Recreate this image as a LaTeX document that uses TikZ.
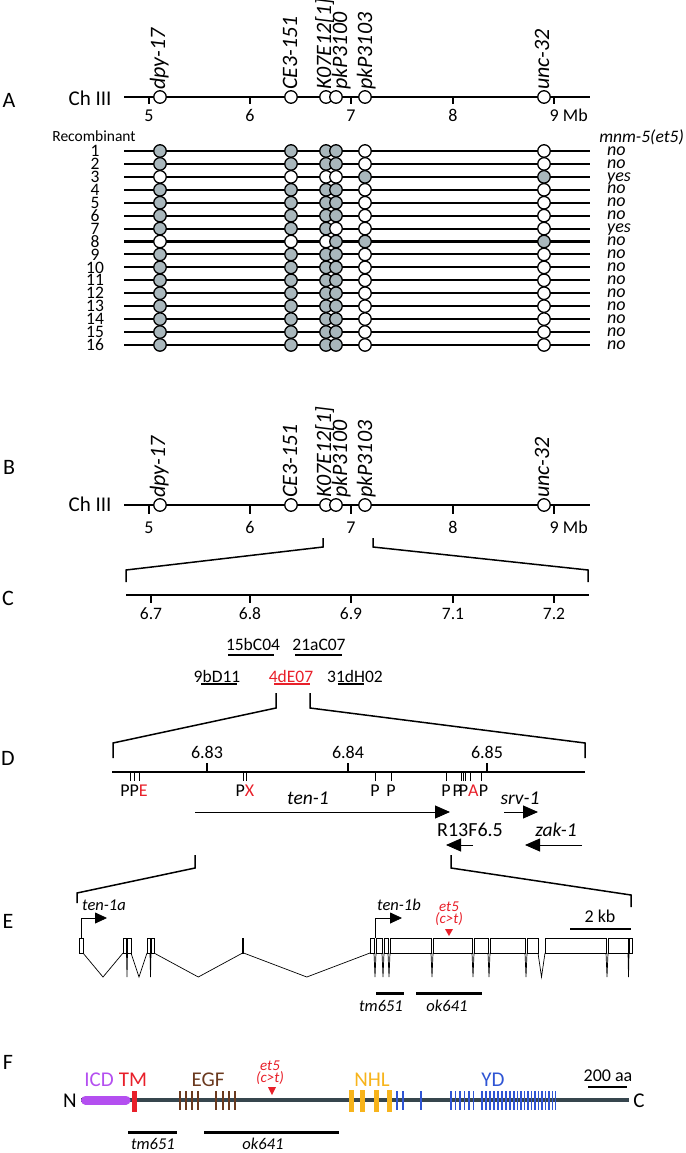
\documentclass[tikz,border=0pt]{standalone}
\usepackage{fontspec}
\setmainfont{Carlito}
\usetikzlibrary{arrows.meta}
\definecolor{mgray}{HTML}{A9B7BC}
\definecolor{mred}{HTML}{E8202A}
\definecolor{mpurple}{HTML}{B44FF0}
\definecolor{mbrown}{HTML}{6B3A1F}
\definecolor{morange}{HTML}{F7B41C}
\definecolor{mblue}{HTML}{2F55D4}
\definecolor{mslate}{HTML}{36464E}
\newcommand{\fsz}[1]{\fontsize{#1}{#1}\selectfont}
\begin{document}
\begin{tikzpicture}[x=1pt,y=-1pt,
  panel/.style={inner sep=0pt, font=\fsz{22}, text height=14.2pt, text depth=0pt},
  tA/.style={inner sep=0pt, font=\fsz{15.5}, text height=10pt, text depth=0pt},
  tB/.style={inner sep=0pt, font=\fsz{17.5}, text height=11.3pt, text depth=0pt},
  tC/.style={inner sep=0pt, font=\fsz{18}, text height=11.6pt, text depth=0pt},
  tD/.style={inner sep=0pt, font=\fsz{20}, text height=12.9pt, text depth=0pt},
  tE/.style={inner sep=0pt, font=\fsz{21}, text height=13.5pt, text depth=0pt},
  iA/.style={inner sep=0pt, font=\fsz{15}\itshape, text height=9.7pt, text depth=0pt},
  iB/.style={inner sep=0pt, font=\fsz{16.5}\itshape, text height=10.6pt, text depth=0pt},
  iC/.style={inner sep=0pt, font=\fsz{17.5}\itshape, text height=11.3pt, text depth=0pt},
  iD/.style={inner sep=0pt, font=\fsz{19.5}\itshape, text height=12.6pt, text depth=0pt},
  xh/.style={inner sep=0pt, font=\fsz{18}\itshape, text height=8.4pt, text depth=0pt},
  rl/.style={rotate=90, anchor=west, inner sep=0pt, font=\fsz{22}\itshape, text height=15pt, text depth=5pt},
  mk/.style={circle, draw, line width=1.3pt, fill=white, minimum size=12.5pt, inner sep=0pt},
  chrom/.style={line width=2.1pt},
  tick/.style={line width=1.3pt},
  brk/.style={line width=1.5pt},
  bar/.style={line width=2.2pt},
  thin/.style={line width=0.7pt},
  garrow/.style={line width=0.9pt, -{Triangle[length=15pt,width=13pt]}},
  parrow/.style={line width=0.8pt, -{Triangle[length=12pt,width=11pt]}}
]
\useasboundingbox (0,0) rectangle (685,1153);

%%%%%%%%%%%%%%%% Panel A
\node[panel] (pA) at (9,100) {A};
\node[tE] (chA) at (90,99) {Ch III};
\coordinate (aL) at (124,97); \coordinate (aR) at (590,97);
\draw[chrom] (aL) -- (aR);
\foreach \x/\l [count=\k] in {149/5,250/6,351/7,453/8}{
  \coordinate (at\k) at (\x,97); \coordinate (ab\k) at (\x,104);
  \draw[tick] (at\k) -- (ab\k);
  \node[tC] (al\k) at (\x,116) {\l};
}
\coordinate (at5) at (554,97); \coordinate (ab5) at (554,104);
\draw[tick] (at5) -- (ab5);
\node[tC, anchor=west] (al5) at (549.5,116) {9 Mb};
\foreach \x/\n/\t/\o in {160/d/dpy-17/0,291/c/CE3-151/1,326/k/K07E12[1]/0,336/p/pkP3100/6,365/q/pkP3103/2,544/u/unc-32/0}{
  \node[mk] (mA\n) at (\x,97) {};
  \node[rl] (lA\n) at ([xshift=\o pt]mA\n.north) {\t};
}

\node[tA] (recomb) at (94,137) {Recombinant};
\node[iC, anchor=east] (mnm) at (684,137) {mnm-5(et5)};

\foreach \i/\a/\b/\c/\d/\e/\f/\r in {
 1/mgray/mgray/mgray/mgray/white/white/no,
 2/mgray/mgray/mgray/mgray/white/white/no,
 3/white/white/white/white/mgray/mgray/yes,
 4/mgray/mgray/mgray/mgray/white/white/no,
 5/mgray/mgray/mgray/mgray/white/white/no,
 6/mgray/mgray/mgray/mgray/white/white/no,
 7/mgray/mgray/mgray/white/white/white/yes,
 8/white/white/white/mgray/mgray/mgray/no,
 9/mgray/mgray/mgray/mgray/white/white/no,
 10/mgray/mgray/mgray/mgray/white/white/no,
 11/mgray/mgray/mgray/mgray/white/white/no,
 12/mgray/mgray/mgray/mgray/white/white/no,
 13/mgray/mgray/mgray/mgray/white/white/no,
 14/mgray/mgray/mgray/mgray/white/white/no,
 15/mgray/mgray/mgray/mgray/white/white/no,
 16/mgray/mgray/mgray/mgray/white/white/no}{
  \pgfmathsetmacro\yy{151+(\i-1)*12.93}
  \coordinate (r\i L) at (124,\yy); \coordinate (r\i R) at (590,\yy);
  \draw[chrom] (r\i L) -- (r\i R);
  \node[mk, fill=\a] (r\i d) at (160,\yy) {};
  \node[mk, fill=\b] (r\i c) at (291,\yy) {};
  \node[mk, fill=\c] (r\i k) at (326,\yy) {};
  \node[mk, fill=\d] (r\i p) at (336,\yy) {};
  \node[mk, fill=\e] (r\i q) at (365,\yy) {};
  \node[mk, fill=\f] (r\i u) at (544,\yy) {};
  \node[tB] (n\i) at (95,\yy) {\i};
  \node[xh, anchor=west] (s\i) at (607,\yy) {\r};
}

%%%%%%%%%%%%%%%% Panel B
\node[panel] (pB) at (9,467) {B};
\node[tE] (chB) at (90,505) {Ch III};
\coordinate (bL) at (124,505); \coordinate (bR) at (590,505);
\draw[chrom] (bL) -- (bR);
\foreach \x/\l [count=\k] in {149/5,250/6,351/7,453/8}{
  \coordinate (bt\k) at (\x,505); \coordinate (bb\k) at (\x,514);
  \draw[tick] (bt\k) -- (bb\k);
  \node[tC] (bl\k) at (\x,528) {\l};
}
\coordinate (bt5) at (554,505); \coordinate (bb5) at (554,514);
\draw[tick] (bt5) -- (bb5);
\node[tC, anchor=west] (bl5) at (549.5,528) {9 Mb};
\foreach \x/\n/\t/\o in {160/d/dpy-17/0,291/c/CE3-151/1,326/k/K07E12[1]/0,336/p/pkP3100/6,365/q/pkP3103/2,544/u/unc-32/0}{
  \node[mk] (mB\n) at (\x,505) {};
  \node[rl] (lB\n) at ([xshift=\o pt]mB\n.north) {\t};
}

%%%%%%%%%%%%%%%% B -> C zoom
\coordinate (z1a) at (323,538); \coordinate (z1b) at (323,547);
\coordinate (z1c) at (126,570); \coordinate (z1d) at (126,582);
\coordinate (z2a) at (373,538); \coordinate (z2b) at (373,547);
\coordinate (z2c) at (588,570); \coordinate (z2d) at (588,582);
\draw[brk] (z1a) -- (z1b) -- (z1c) -- (z1d);
\draw[brk] (z2a) -- (z2b) -- (z2c) -- (z2d);

%%%%%%%%%%%%%%%% Panel C
\node[panel] (pC) at (8,598) {C};
\coordinate (cL) at (126,595); \coordinate (cR) at (589,595);
\draw[chrom] (cL) -- (cR);
\foreach \x/\l [count=\k] in {151/6.7,250/6.8,351/6.9,453/7.1,554/7.2}{
  \coordinate (ct\k) at (\x,595); \coordinate (cb\k) at (\x,603);
  \draw[tick] (ct\k) -- (cb\k);
  \node[tB] (cl\k) at (\x,614) {\l};
}

% clones
\node[tB] (k1) at (253,645) {15bC04};
\coordinate (k1a) at (228,655); \coordinate (k1b) at (274,655);
\draw[bar] (k1a) -- (k1b);
\node[tB] (k2) at (319,645) {21aC07};
\coordinate (k2a) at (295,655); \coordinate (k2b) at (342,655);
\draw[bar] (k2a) -- (k2b);
\node[tB] (k3) at (217,677) {9bD11};
\coordinate (k3a) at (201,684); \coordinate (k3b) at (237,684);
\draw[bar] (k3a) -- (k3b);
\node[tB, text=mred] (k4) at (291,677) {4dE07};
\coordinate (k4a) at (274,684); \coordinate (k4b) at (310,684);
\draw[bar, mred] (k4a) -- (k4b);
\node[tB] (k5) at (355,677) {31dH02};
\coordinate (k5a) at (338,684); \coordinate (k5b) at (364,684);
\draw[bar] (k5a) -- (k5b);

%%%%%%%%%%%%%%%% 4dE07 -> D zoom
\coordinate (y1a) at (276,693); \coordinate (y1b) at (276,708);
\coordinate (y1c) at (113,743); \coordinate (y1d) at (113,758);
\coordinate (y2a) at (310,693); \coordinate (y2b) at (310,708);
\coordinate (y2c) at (585,743); \coordinate (y2d) at (585,758);
\draw[brk] (y1a) -- (y1b) -- (y1c) -- (y1d);
\draw[brk] (y2a) -- (y2b) -- (y2c) -- (y2d);

%%%%%%%%%%%%%%%% Panel D
\node[panel] (pD) at (8,758) {D};
\coordinate (dL) at (112,772); \coordinate (dR) at (585,772);
\draw[chrom] (dL) -- (dR);
\foreach \x/\l [count=\k] in {207/6.83,348/6.84,487/6.85}{
  \coordinate (dt\k) at (\x,772); \coordinate (du\k) at (\x,763);
  \draw[tick] (dt\k) -- (du\k);
  \node[tC] (dl\k) at (\x,753) {\l};
}
\foreach \x [count=\k] in {130,134.5,139,243.5,246,375,391,446,461,463,465,470,481}{
  \coordinate (rs\k) at (\x,772); \coordinate (re\k) at (\x,781);
  \draw[line width=1pt] (rs\k) -- (re\k);
}
\node[tC] (rsA) at (134,791) {PP\textcolor{mred}{E}};
\node[tC] (rsB) at (245,791) {P\textcolor{mred}{X}};
\node[tC] (rsC) at (375,791) {P};
\node[tC] (rsD) at (391,791) {P};
\node[tC] (rsE) at (446,791) {P};
\node[tC] (rsF) at (465.5,791) {P\kern-3pt P\textcolor{mred}{A}};
\node[tC] (rsG) at (483.5,791) {P};

\node[iD] (ten1) at (308,798) {ten-1};
\coordinate (g1a) at (195,812); \coordinate (g1b) at (450,812);
\draw[garrow] (g1a) -- (g1b);
\node[iD] (srv1) at (520,798) {srv-1};
\coordinate (g2a) at (504,812); \coordinate (g2b) at (538,812);
\draw[garrow] (g2a) -- (g2b);
\node[tD] (r13) at (470,830) {R13F6.5};
\coordinate (g3a) at (473,845); \coordinate (g3b) at (446,845);
\draw[garrow] (g3a) -- (g3b);
\node[iD] (zak1) at (556,830) {zak-1};
\coordinate (g4a) at (582,845); \coordinate (g4b) at (525,845);
\draw[garrow] (g4a) -- (g4b);

%%%%%%%%%%%%%%%% ten-1 -> E zoom
\coordinate (x1a) at (195,855); \coordinate (x1b) at (195,868);
\coordinate (x1c) at (77,893); \coordinate (x1d) at (77,903);
\coordinate (x2a) at (451,855); \coordinate (x2b) at (451,868);
\coordinate (x2c) at (631,895); \coordinate (x2d) at (631,907);
\draw[brk] (x1a) -- (x1b) -- (x1c) -- (x1d);
\draw[brk] (x2a) -- (x2b) -- (x2c) -- (x2d);

%%%%%%%%%%%%%%%% Panel E
\node[panel] (pE) at (8,921) {E};
% exons
\foreach \a/\b [count=\k] in {79/83,123/126.5,127.5/131,147/150,151/154,242.6/243.6,370/374,376/382,384/388,390/431,433/472,474/488,490/525,527/538,545/606,608/628,629/632}{
  \coordinate (ex\k a) at (\a,938); \coordinate (ex\k b) at (\b,953);
  \draw[thin] (ex\k a) rectangle (ex\k b);
}
% introns (V shapes)
\foreach \a/\b [count=\k] in {83/123,126.5/127.5,131/147,150/151,154/242.6,243.6/370,374/376,382/384,388/390,431/433,472/474,488/490,525/527,538/545,606/608,628/629}{
  \pgfmathsetmacro\mm{(\a+\b)/2}
  \coordinate (in\k a) at (\a,953); \coordinate (in\k m) at (\mm,977); \coordinate (in\k b) at (\b,953);
  \draw[thin] (in\k a) -- (in\k m) -- (in\k b);
}
% promoters
\coordinate (p1a) at (81,938); \coordinate (p1b) at (81,918); \coordinate (p1c) at (107,918);
\draw[parrow] (p1a) -- (p1b) -- (p1c);
\node[iB, anchor=west] (ten1a) at (82,905) {ten-1a};
\coordinate (p2a) at (375,938); \coordinate (p2b) at (375,918); \coordinate (p2c) at (402,918);
\draw[parrow] (p2a) -- (p2b) -- (p2c);
\node[iB, anchor=west] (ten1b) at (377,905) {ten-1b};
% et5
\node[iA, text=mred] (et5E) at (449,907) {et5};
\node[iA, text=mred] (ctE) at (449,919) {(c>t)};
\coordinate (tr1a) at (445,929); \coordinate (tr1b) at (453,929); \coordinate (tr1c) at (449,936);
\fill[mred] (tr1a) -- (tr1b) -- (tr1c) -- cycle;
% scale
\coordinate (sk1) at (570,929); \coordinate (sk2) at (631,929);
\draw[bar] (sk1) -- (sk2);
\node[tC] (kb) at (600,917) {2 kb};
% deletions
\coordinate (dl1a) at (376,993); \coordinate (dl1b) at (404,993);
\draw[line width=3pt] (dl1a) -- (dl1b);
\node[iB] (tmE) at (381,1006) {tm651};
\coordinate (dl2a) at (416,993); \coordinate (dl2b) at (482,993);
\draw[line width=3pt] (dl2a) -- (dl2b);
\node[iB] (okE) at (447,1006) {ok641};

%%%%%%%%%%%%%%%% Panel F
\node[panel] (pF) at (8,1062) {F};
\coordinate (fL) at (81,1100); \coordinate (fR) at (629,1100);
\draw[mslate, line width=3.5pt] (fL) -- (fR);
\node[tE] (nN) at (70,1101) {N};
\node[tE] (nC) at (639,1101) {C};
\coordinate (icd1) at (85.5,1100); \coordinate (icd2) at (126,1100);
\draw[mpurple, line width=9pt, line cap=round] (icd1) -- (icd2);
\fill[mred] (132,1091) rectangle (136.5,1112);
\foreach \x in {180,186,192,198,216,223,229,235}{
  \fill[mbrown] (\x-1.3,1091) rectangle (\x+1.3,1110);
}
\foreach \x in {351,362,376,389}{
  \fill[morange] (\x-2.5,1090) rectangle (\x+2.5,1112);
}
\foreach \x in {397,403,421,451,455.5,460,464.5,469,473.5,482,486,490,494,498,502,506,510,514,517.5,521,524.5,528,531.5,535,538.5,542,545.5,549,552.5,555.5}{
  \fill[mblue] (\x-0.8,1091) rectangle (\x+0.8,1110);
}
\node[tE, text=mpurple] (lICD) at (99,1080) {ICD};
\node[tE, text=mred] (lTM) at (133,1080) {TM};
\node[tE, text=mbrown] (lEGF) at (208,1080) {EGF};
\node[tE, text=morange] (lNHL) at (372,1080) {NHL};
\node[tE, text=mblue] (lYD) at (493,1080) {YD};
\node[iA, text=mred] (et5F) at (270,1066) {et5};
\node[iA, text=mred] (ctF) at (270,1078) {(c>t)};
\coordinate (tr2a) at (268,1087); \coordinate (tr2b) at (276,1087); \coordinate (tr2c) at (272,1095);
\fill[mred] (tr2a) -- (tr2b) -- (tr2c) -- cycle;
\coordinate (sa1) at (588,1087); \coordinate (sa2) at (627,1087);
\draw[bar] (sa1) -- (sa2);
\node[tC] (aa) at (608,1076) {200 aa};
\coordinate (fd1a) at (128,1132); \coordinate (fd1b) at (177,1132);
\draw[line width=3pt] (fd1a) -- (fd1b);
\node[iB] (tmF) at (153,1144) {tm651};
\coordinate (fd2a) at (204,1132); \coordinate (fd2b) at (339,1132);
\draw[line width=3pt] (fd2a) -- (fd2b);
\node[iB] (okF) at (263,1144) {ok641};
\end{tikzpicture}
\end{document}
